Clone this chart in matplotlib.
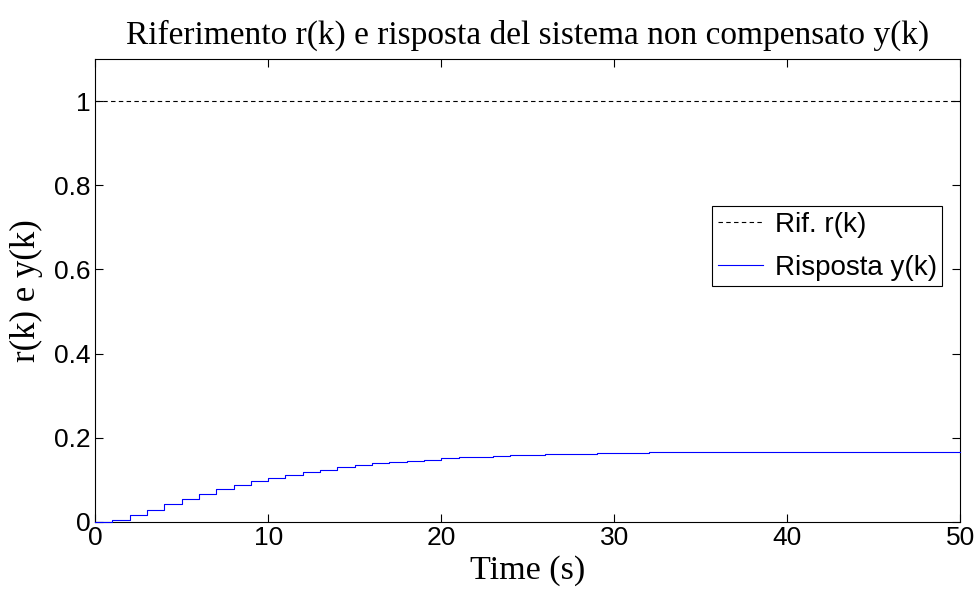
import matplotlib
matplotlib.use("Agg")
import matplotlib.pyplot as plt
import numpy as np

k = list(range(0, 51))
y_resp = [0.0, 0.005, 0.015, 0.029, 0.042, 0.055, 0.066, 0.077, 0.087, 0.096,
          0.104, 0.112, 0.118, 0.124, 0.130, 0.134, 0.139, 0.142, 0.145, 0.148,
          0.151, 0.153, 0.155, 0.157, 0.158, 0.159, 0.161, 0.162, 0.162, 0.163,
          0.164, 0.164, 0.165, 0.165, 0.165, 0.166, 0.166, 0.166, 0.166, 0.166,
          0.166, 0.166, 0.166, 0.166, 0.166, 0.166, 0.166, 0.166, 0.166, 0.166,
          0.166]
r_ref = [1.0] * len(k)
xticks = [0, 10, 20, 30, 40, 50]
yticks = [0, 0.2, 0.4, 0.6, 0.8, 1]
ytick_labels = ["0", "0.2", "0.4", "0.6", "0.8", "1"]

fig = plt.figure(figsize=(9.8, 5.99), dpi=100)
ax = fig.add_axes([0.097, 0.129, 0.883, 0.772])

ax.plot(k, r_ref, color="black", linestyle=(0, (4, 3)), linewidth=0.8,
        label="Rif. r(k)", zorder=3)
ax.step(k, y_resp, where="post", color="#0000ff", linewidth=0.8,
        label="Risposta y(k)", zorder=3, clip_on=False)

ax.set_xlim(0, 50)
ax.set_ylim(0, 1.1)
ax.set_xticks(xticks)
ax.set_yticks(yticks)
ax.set_yticklabels(ytick_labels)
ax.tick_params(direction="in", top=True, right=True, length=6, width=0.8,
               labelsize=19, pad=3)
for lab in ax.get_xticklabels() + ax.get_yticklabels():
    lab.set_family("Liberation Sans")
for s in ax.spines.values():
    s.set_linewidth(0.8)

ax.set_title("Riferimento r(k) e risposta del sistema non compensato y(k)",
             family="Liberation Serif", fontsize=24, pad=11)
ax.set_xlabel("Time (s)", family="Liberation Serif", fontsize=24.5, labelpad=4)
ax.set_ylabel("r(k) e y(k)", family="Liberation Serif", fontsize=25, labelpad=8)

leg = ax.legend(loc="upper right", bbox_to_anchor=(0.979, 0.682),
                prop={"family": "Liberation Sans", "size": 20},
                fancybox=False, framealpha=1, edgecolor="black",
                handlelength=1.65, handletextpad=0.4, borderpad=0.2,
                labelspacing=0.6, borderaxespad=0)
leg.get_frame().set_linewidth(0.8)

fig.savefig("out.png", dpi=100)
